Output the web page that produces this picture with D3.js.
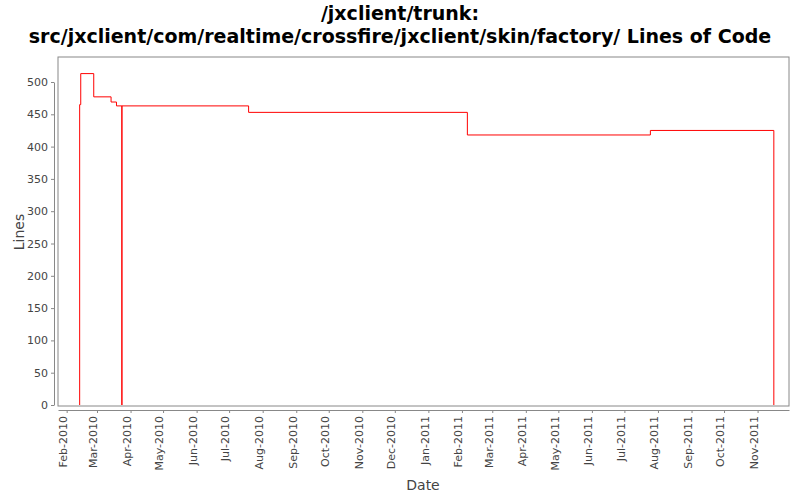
<!DOCTYPE html>
<html><head><meta charset="utf-8">
<script src="https://cdn.jsdelivr.net/npm/d3@7"></script>
<style>body{margin:0;background:#fff}text{font-family:"DejaVu Sans",sans-serif}</style>
</head><body><svg id="c" width="800" height="500"></svg>
<script>
var dates = ["2010-02-13","2010-02-13","2010-02-14","2010-02-26","2010-03-14","2010-03-19","2010-03-24","2010-03-24","2010-07-19","2011-02-06","2011-07-25","2011-11-16","2011-11-16"];
var lines = [0,465,513,477,469,463,0,463,453,418,425,425,0];
var yTicks = [0,50,100,150,200,250,300,350,400,450,500];

var parse = d3.timeParse("%Y-%m-%d");
var data = dates.map(function (d, i) { return {date: parse(d), value: lines[i]}; });

var m = {l: 58, r: 789, t: 57, b: 406};
var svg = d3.select("#c");
var x = d3.scaleTime().domain([parse("2010-01-24"), parse("2011-11-30")]).range([m.l, m.r]);
var y = d3.scaleLinear().domain([0, 500]).range([405, 82]);

svg.append("rect").attr("x", m.l).attr("y", m.t).attr("width", m.r - m.l).attr("height", m.b - m.t)
    .attr("fill", "#fff").attr("stroke", "#888");

var xa = svg.append("g").attr("transform", "translate(0," + (m.b + 4) + ")")
    .call(d3.axisBottom(x).ticks(d3.timeMonth.every(1)).tickFormat(d3.timeFormat("%b-%Y")).tickSize(3).tickSizeOuter(0));
xa.select(".domain").attr("stroke", "#888");
xa.selectAll(".tick line").attr("stroke", "#888");
xa.selectAll("text").attr("transform", "rotate(-90)").attr("text-anchor", "end")
    .attr("x", -6).attr("y", -4).attr("dy", "0.35em").attr("font-size", 11).attr("fill", "#444");

var ya = svg.append("g").attr("transform", "translate(" + (m.l - 4) + ",0)")
    .call(d3.axisLeft(y).tickValues(yTicks).tickSize(3).tickSizeOuter(0));
ya.select(".domain").attr("stroke", "#888");
ya.selectAll(".tick line").attr("stroke", "#888");
ya.selectAll("text").attr("font-size", 11).attr("fill", "#444");

svg.append("path").datum(data)
    .attr("d", d3.line().x(function (d) { return x(d.date); }).y(function (d) { return y(d.value); }).curve(d3.curveStepAfter))
    .attr("fill", "none").attr("stroke", "red").attr("stroke-width", 1);

svg.append("text").attr("x", 400).attr("y", 20).attr("text-anchor", "middle")
    .attr("font-size", 19).attr("font-weight", "bold").text("/jxclient/trunk:");
svg.append("text").attr("x", 400).attr("y", 43).attr("text-anchor", "middle")
    .attr("font-size", 19).attr("font-weight", "bold").text("src/jxclient/com/realtime/crossfire/jxclient/skin/factory/ Lines of Code");

svg.append("text").attr("x", 423).attr("y", 490).attr("text-anchor", "middle")
    .attr("font-size", 14).attr("fill", "#444").text("Date");
svg.append("text").attr("transform", "translate(24,232) rotate(-90)").attr("text-anchor", "middle")
    .attr("font-size", 14).attr("fill", "#444").text("Lines");
</script></body></html>
